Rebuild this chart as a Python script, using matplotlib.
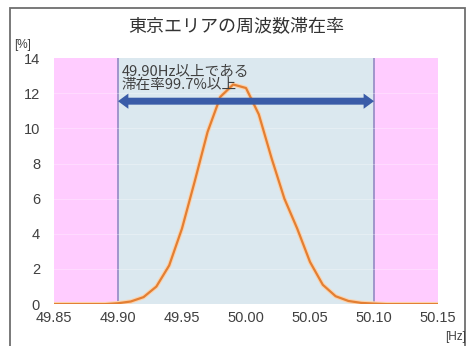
import numpy as np
import matplotlib.pyplot as plt
from matplotlib.patches import Rectangle, FancyArrowPatch

plt.rcParams['font.family'] = ['Liberation Sans', 'Noto Sans CJK JP']

# 周波数 (0.01Hz刻み) と滞在率 [%]
freq = [49.85, 49.86, 49.87, 49.88, 49.89, 49.90, 49.91, 49.92, 49.93, 49.94,
        49.95, 49.96, 49.97, 49.98, 49.99, 50.00, 50.01, 50.02, 50.03, 50.04,
        50.05, 50.06, 50.07, 50.08, 50.09, 50.10, 50.11, 50.12, 50.13, 50.14, 50.15]
rate = [0.0, 0.0, 0.0, 0.0, 0.0, 0.05, 0.15, 0.4, 1.0, 2.2,
        4.3, 7.0, 9.8, 11.8, 12.5, 12.3, 10.8, 8.3, 6.0, 4.3,
        2.4, 1.1, 0.45, 0.18, 0.07, 0.03, 0.0, 0.0, 0.0, 0.0, 0.0]

xticks = [49.85, 49.90, 49.95, 50.00, 50.05, 50.10, 50.15]
xtick_labels = ['49.85', '49.90', '49.95', '50.00', '50.05', '50.10', '50.15']
yticks = [0, 2, 4, 6, 8, 10, 12, 14]

ok_low, ok_high = 49.90, 50.10
arrow_y = 11.55

fig = plt.figure(figsize=(4.69, 3.46), dpi=100)
ax = fig.add_axes([0.115, 0.121, 0.819, 0.711])

# 枠
fig.patches.append(Rectangle((10 / 469, -0.1), 455 / 469, 1.1 - 8 / 346,
                             transform=fig.transFigure, fill=False,
                             edgecolor='#6e6e6e', linewidth=1.3))

# 背景の塗り分け
ax.axvspan(xticks[0], ok_low, color='#ffccff', lw=0)
ax.axvspan(ok_low, ok_high, color='#dbe8ef', lw=0)
ax.axvspan(ok_high, xticks[-1], color='#ffccff', lw=0)
for v in (ok_low, ok_high):
    ax.axvline(v, color='#9a90c8', lw=1.3)
for t in yticks[1:-1]:
    ax.axhline(t, color='white', lw=0.6, alpha=0.35)

ax.plot(freq, rate, color='#fbd3ae', lw=3.2, solid_capstyle='round')
ax.plot(freq, rate, color='#e37f33', lw=1.6)

# 両矢印 (中央から左右へ2本)
mid = (ok_low + ok_high) / 2
for end in (ok_low, ok_high):
    ax.add_patch(FancyArrowPatch((mid, arrow_y), (end, arrow_y),
                                 arrowstyle='simple,head_length=0.75,head_width=1.1,tail_width=0.5',
                                 mutation_scale=10, lw=0, color='#3a5ca8',
                                 shrinkA=0, shrinkB=0, zorder=3))
ax.text(49.903, 13.6, '49.90Hz以上である\n滞在率99.7%以上', fontsize=10.5,
        color='#404040', va='top', ha='left', linespacing=0.85,
        family=['Noto Sans CJK JP'], zorder=4)

ax.set_xlim(xticks[0], xticks[-1])
ax.set_ylim(0, 14)
ax.set_xticks(xticks)
ax.set_xticklabels(xtick_labels)
ax.set_yticks(yticks)
ax.tick_params(length=0, labelsize=10.5, colors='#404040')
ax.tick_params(axis='y', pad=10)
ax.tick_params(axis='x', pad=5)
for s in ax.spines.values():
    s.set_visible(False)

fig.text(236 / 469, 1 - 27 / 346, '東京エリアの周波数滞在率', fontsize=13,
         ha='center', va='center', color='#333333', family=['Noto Sans CJK JP'])
fig.text(14 / 469, 1 - 45 / 346, '[%]', fontsize=8.5, ha='left', va='center',
         color='#404040')
fig.text(466 / 469, 1 - 337 / 346, '[Hz]', fontsize=8.5, ha='right', va='center',
         color='#404040')

fig.savefig('out.png', dpi=100)
